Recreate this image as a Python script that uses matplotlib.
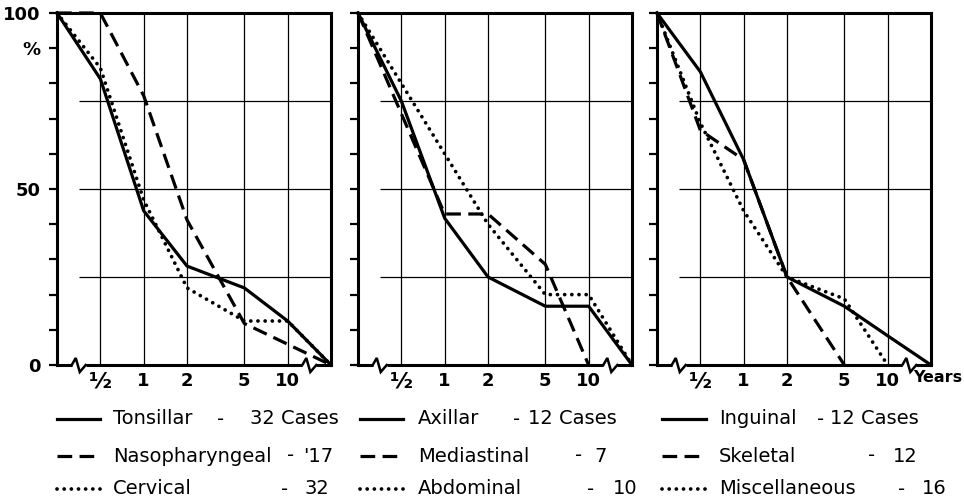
# IMPORTS
import numpy as np
import matplotlib

matplotlib.use("Agg")
import matplotlib.pyplot as plt
from matplotlib.lines import Line2D

# DATA
YEARS = [0.25, 0.5, 1, 2, 5, 10, 20]  # 0.25 = start, 20 = right end of the broken axis
X_TICKS = [0.5, 1, 2, 5, 10]
X_TICK_LABELS = ["½", "1", "2", "5", "10"]
Y_TICKS = [0, 10, 20, 30, 40, 50, 60, 70, 80, 90, 100]
Y_TICK_LABELS = ["0", "", "", "", "", "50", "", "", "", "%", "100"]
H_GRID = [25, 50, 75]

TONSILLAR = [100, 81.3, 43.8, 28.1, 21.9, 12.5, 0]
NASOPHARYNGEAL = [100, 100, 76.5, 41.2, 11.8, 5.9, 0]
CERVICAL = [100, 84.4, 46.9, 21.9, 12.5, 12.5, 0]

AXILLAR = [100, 75.0, 41.7, 25.0, 16.7, 16.7, 0]
MEDIASTINAL = [100, 71.4, 42.9, 42.9, 28.6, 0]
ABDOMINAL = [100, 80, 60, 40, 20, 20, 0]

INGUINAL = [100, 83.3, 58.3, 25.0, 16.7, 8.3, 0]
SKELETAL = [100, 66.7, 58.3, 25.0, 0]
MISCELLANEOUS = [100, 68.8, 43.8, 25.0, 18.8, 0]

LEGEND_NAMES = [
    ["Tonsillar", "Nasopharyngeal", "Cervical"],
    ["Axillar", "Mediastinal", "Abdominal"],
    ["Inguinal", "Skeletal", "Miscellaneous"],
]
LEGEND_COUNTS = [
    ["32 Cases", "'17", "32"],
    ["12 Cases", "7", "10"],
    ["12 Cases", "12", "16"],
]

# CONSTANTS (layout in pixels of the 964x503 picture)
W, H = 964, 503
DPI = 100
PANEL_LEFT = [57, 358, 657]
PANEL_WIDTH = 274
PANEL_TOP = 13
PANEL_BOTTOM = 365
X_MIN, X_MAX = 0.25, 20
BREAKS = [0.354, 14.14]

LW = 2.3
STYLES = [
    dict(linestyle="-", linewidth=LW),
    dict(linestyle=(0, (4.6, 2.3)), linewidth=LW),
    dict(linestyle=(0, (0.01, 1.9)), linewidth=2.7, dash_capstyle="round"),
]

LEGEND_ROWS = [419, 456, 489]
LEGEND_SAMPLE_X = [(57, 100), (360, 403), (662, 706)]
LEGEND_TEXT_X = [113, 418, 719]
LEGEND_DASH_X = [[217, 287, 281], [513, 575, 587], [817, 868, 898]]
LEGEND_COUNT_X = [[250, 303, 305], [528, 594, 613], [830, 893, 922]]

FONT = "DejaVu Sans"


# FUNCTIONS
def fx(px):
    return px / W


def fy(py):
    return 1 - py / H


def draw_break(ax, xb):
    # zig-zag break mark on the bottom axis, offsets in pixels
    frac = np.log(xb / X_MIN) / np.log(X_MAX / X_MIN)
    pts = [(-7, 0), (-3, 7), (1, -7), (7, 0)]
    xs = [frac + dx / PANEL_WIDTH for dx, dy in pts]
    ys = [dy / (PANEL_BOTTOM - PANEL_TOP) for dx, dy in pts]
    ax.plot([xs[0], xs[-1]], [0, 0], transform=ax.transAxes, color="white",
            linewidth=3.5, clip_on=False, zorder=5, solid_capstyle="butt")
    ax.plot(xs, ys, transform=ax.transAxes, color="black", linewidth=1.8,
            clip_on=False, zorder=6, solid_joinstyle="miter")


def setup_panel(ax, first, last):
    ax.set_xscale("log")
    ax.set_xlim(X_MIN, X_MAX)
    ax.set_ylim(0, 100)
    ax.minorticks_off()
    for s in ax.spines.values():
        s.set_linewidth(2.2)

    for xv in X_TICKS:
        ax.axvline(xv, color="black", linewidth=0.9, zorder=1)
    ax.hlines(H_GRID, BREAKS[0], X_MAX, color="black", linewidth=0.9, zorder=1)

    ax.set_xticks(X_TICKS)
    ax.set_xticklabels(X_TICK_LABELS, fontsize=13, fontweight="bold", family=FONT)
    ax.tick_params(axis="x", length=0, pad=5)
    half = ax.get_xticklabels()[0]
    half.set_fontsize(16)

    ax.set_yticks(Y_TICKS)
    ax.tick_params(axis="y", direction="out", length=6, width=1.6, pad=6)
    if first:
        ax.set_yticklabels(Y_TICK_LABELS, fontsize=13, fontweight="bold", family=FONT)
    else:
        ax.set_yticklabels([])

    if last:
        ax.text(0.934, -12 / (PANEL_BOTTOM - PANEL_TOP), "Years", transform=ax.transAxes,
                ha="left", va="center", fontsize=11.5, fontweight="bold", family=FONT)

    for xb in BREAKS:
        draw_break(ax, xb)


def draw_series(ax, series):
    for values, style in zip(series, STYLES):
        ax.plot(YEARS[: len(values)], values, color="black", clip_on=False, zorder=3, **style)


def draw_legend(fig):
    for col in range(3):
        for row in range(3):
            y = fy(LEGEND_ROWS[row])
            x0, x1 = LEGEND_SAMPLE_X[col]
            fig.add_artist(Line2D([fx(x0), fx(x1)], [y, y], color="black",
                                  transform=fig.transFigure, **STYLES[row]))
            kw = dict(va="center", ha="left", fontsize=14, family=FONT)
            fig.text(fx(LEGEND_TEXT_X[col]), y, LEGEND_NAMES[col][row], **kw)
            fig.text(fx(LEGEND_DASH_X[col][row]), y, "-", **kw)
            fig.text(fx(LEGEND_COUNT_X[col][row]), y, LEGEND_COUNTS[col][row], **kw)


# MAIN CODE
fig = plt.figure(figsize=(W / DPI, H / DPI), dpi=DPI, facecolor="white")

panels = [
    [TONSILLAR, NASOPHARYNGEAL, CERVICAL],
    [AXILLAR, MEDIASTINAL, ABDOMINAL],
    [INGUINAL, SKELETAL, MISCELLANEOUS],
]

for i, series in enumerate(panels):
    ax = fig.add_axes([fx(PANEL_LEFT[i]), fy(PANEL_BOTTOM), fx(PANEL_WIDTH),
                       (PANEL_BOTTOM - PANEL_TOP) / H])
    setup_panel(ax, i == 0, i == 2)
    draw_series(ax, series)

draw_legend(fig)

fig.savefig("out.png", dpi=DPI)
plt.close(fig)
